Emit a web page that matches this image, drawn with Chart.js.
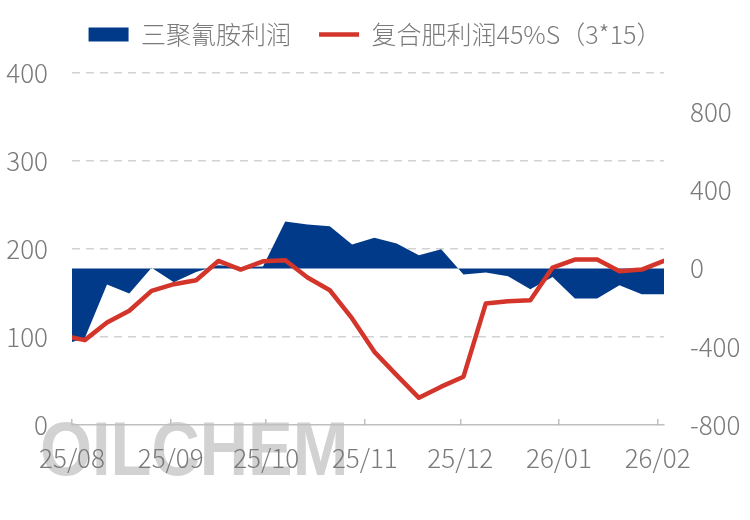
<!DOCTYPE html>
<html>
<head>
<meta charset="utf-8">
<script src="https://cdn.jsdelivr.net/npm/chart.js@4"></script>
<style>
  html, body { margin: 0; padding: 0; background: #fff; }
  #wrap { width: 750px; height: 520px; }
</style>
</head>
<body>
<div id="wrap"><canvas id="chart" width="750" height="520"></canvas></div>
<script>
// 日期（周度）
const dates = [
  '2025-08-01', '2025-08-05', '2025-08-12', '2025-08-19', '2025-08-26',
  '2025-09-02', '2025-09-09', '2025-09-16', '2025-09-23', '2025-09-30',
  '2025-10-07', '2025-10-14', '2025-10-21', '2025-10-28',
  '2025-11-04', '2025-11-11', '2025-11-18', '2025-11-25',
  '2025-12-02', '2025-12-09', '2025-12-16', '2025-12-23', '2025-12-30',
  '2026-01-06', '2026-01-13', '2026-01-20', '2026-01-27', '2026-02-03'
];
// 月份刻度
const monthStarts = ['2025-08-01', '2025-09-01', '2025-10-01', '2025-11-01', '2025-12-01', '2026-01-01', '2026-02-01'];
const monthLabels = ['25/08', '25/09', '25/10', '25/11', '25/12', '26/01', '26/02'];

// 三聚氰胺利润
const melamineProfit = [
  -375, -356, -82, -128, 4,
  -70, -17, 17, 8, 10,
  241, 225, 216, 123,
  158, 128, 68, 99,
  -31, -20, -39, -106, -43,
  -153, -153, -85, -131, -131
];
// 复合肥利润45%S（3*15）
const compoundProfit = [
  -352, -366, -276, -216, -114,
  -80, -60, 39, -5, 37,
  42, -46, -111, -255,
  -426, -545, -661, -604,
  -553, -179, -167, -162, 5,
  46, 46, -14, -5, 40
];

const leftTicks = [0, 100, 200, 300, 400];
const rightTicks = [-800, -400, 0, 400, 800];

const DAY = 86400000;
const t0 = Date.parse(dates[0]);
const toDay = d => (Date.parse(d) - t0) / DAY;
const xs = dates.map(toDay);
const monthDays = monthStarts.map(toDay);

const textColor = '#7a7a7a';
const axisColor = '#bfbfbf';
const fontFamily = '"Noto Sans CJK SC", "Noto Sans", sans-serif';

// 水印
const watermark = {
  id: 'watermark',
  beforeDraw(chart) {
    const ctx = chart.ctx;
    ctx.save();
    const g = ctx.createLinearGradient(0, 418, 0, 478);
    g.addColorStop(0, 'rgba(195,195,195,0.75)');
    g.addColorStop(1, 'rgba(240,240,240,0.2)');
    ctx.fillStyle = g;
    ctx.font = 'bold 76px "Liberation Sans", sans-serif';
    ctx.textBaseline = 'alphabetic';
    ctx.translate(40, 475);
    ctx.scale(0.88, 1);
    ctx.fillText('OILCHEM', 0, 0);
    ctx.restore();
  }
};

// 图例下方留白
const legendGap = {
  id: 'legendGap',
  beforeInit(chart) {
    const fit = chart.legend.fit;
    chart.legend.fit = function() {
      fit.call(this);
      this.height += 16;
    };
  }
};

new Chart(document.getElementById('chart'), {
  type: 'line',
  data: {
    datasets: [
      {
        label: '三聚氰胺利润',
        data: xs.map((x, i) => ({ x: x, y: melamineProfit[i] })),
        yAxisID: 'y2',
        backgroundColor: '#023a8a',
        borderColor: '#023a8a',
        borderWidth: 0,
        fill: 'origin',
        pointRadius: 0,
        pointStyle: 'rect',
        tension: 0,
        order: 2
      },
      {
        label: '复合肥利润45%S（3*15）',
        data: xs.map((x, i) => ({ x: x, y: compoundProfit[i] })),
        yAxisID: 'y2',
        borderColor: '#d3352b',
        backgroundColor: '#d3352b',
        borderWidth: 4.5,
        borderCapStyle: 'round',
        borderJoinStyle: 'round',
        fill: false,
        pointRadius: 0,
        pointStyle: 'line',
        tension: 0,
        order: 1
      }
    ]
  },
  options: {
    responsive: false,
    animation: false,
    layout: { padding: { top: -6, left: 0, right: 0, bottom: 0 } },
    plugins: {
      tooltip: { enabled: false },
      legend: {
        position: 'top',
        labels: {
          usePointStyle: true,
          pointStyleWidth: 40,
          boxHeight: 14,
          padding: 28,
          color: textColor,
          font: { family: fontFamily, size: 25, weight: 300 },
          sort: (a, b) => a.datasetIndex - b.datasetIndex
        }
      }
    },
    scales: {
      x: {
        type: 'linear',
        min: 0,
        max: xs[xs.length - 1],
        afterBuildTicks: s => { s.ticks = monthDays.map(v => ({ value: v })); },
        afterFit: s => { s.height = 95; },
        ticks: {
          autoSkip: false,
          maxRotation: 0,
          padding: 24,
          color: textColor,
          font: { family: fontFamily, size: 26, weight: 300 },
          callback: v => monthLabels[monthDays.indexOf(v)]
        },
        grid: {
          drawOnChartArea: false,
          drawTicks: true,
          tickLength: -6,
          color: axisColor,
          lineWidth: 1.5
        },
        border: { display: true, color: axisColor, width: 1.5 }
      },
      y: {
        position: 'left',
        min: leftTicks[0],
        max: leftTicks[leftTicks.length - 1],
        afterBuildTicks: s => { s.ticks = leftTicks.map(v => ({ value: v })); },
        afterFit: s => { s.width = 72; },
        ticks: {
          padding: 24,
          color: textColor,
          font: { family: fontFamily, size: 26, weight: 300 }
        },
        grid: {
          drawTicks: false,
          color: c => c.tick && c.tick.value === 0 ? 'rgba(0,0,0,0)' : '#d2d2d2',
          lineWidth: 1.5
        },
        border: { display: false, dash: [8, 6] }
      },
      y2: {
        position: 'right',
        min: -800,
        max: 1000,
        afterBuildTicks: s => { s.ticks = rightTicks.map(v => ({ value: v })); },
        afterFit: s => { s.width = 86; },
        ticks: {
          padding: 26,
          color: textColor,
          font: { family: fontFamily, size: 26, weight: 300 }
        },
        grid: { display: false, drawTicks: false },
        border: { display: false }
      }
    }
  },
  plugins: [watermark, legendGap]
});
</script>
</body>
</html>
